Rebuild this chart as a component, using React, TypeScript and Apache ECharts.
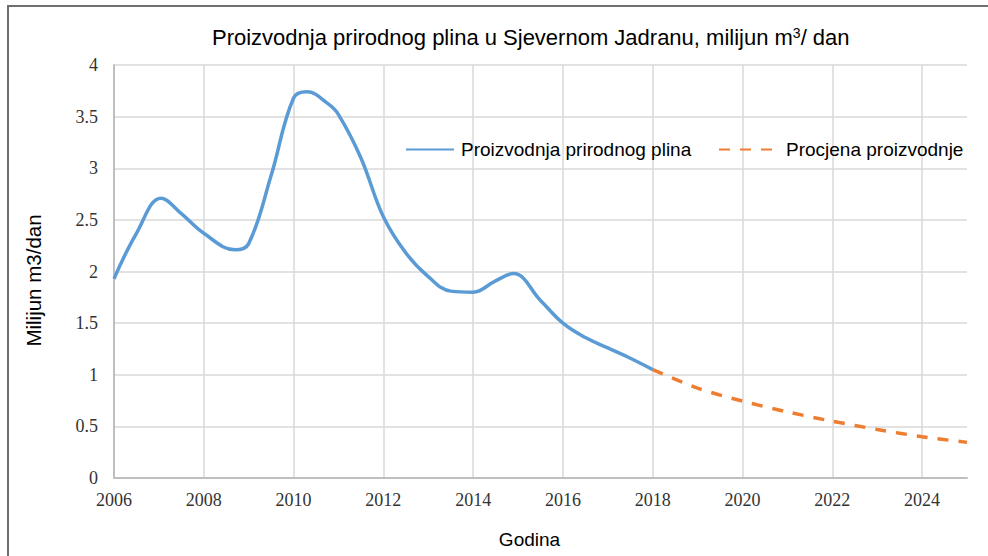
import React, { useEffect, useRef } from "react";
import * as echarts from "echarts";

const titleText = "Proizvodnja prirodnog plina u Sjevernom Jadranu, milijun m{sup|3}/ dan";
const xAxisName = "Godina";
const yAxisName = "Milijun m3/dan";
const seriesNames = ["Proizvodnja prirodnog plina", "Procjena proizvodnje"];

const productionYears = [
  2006, 2006.5, 2007.05, 2007.5, 2008, 2008.7, 2009, 2009.5, 2010, 2010.3, 2010.75,
  2011, 2011.5, 2012, 2012.5, 2013, 2013.5, 2014, 2014.5, 2014.9, 2015.5, 2016,
  2016.5, 2017, 2017.5, 2018,
];
const productionValues = [
  1.93, 2.37, 2.71, 2.56, 2.37, 2.21, 2.27, 2.93, 3.68, 3.74, 3.63,
  3.52, 3.1, 2.53, 2.18, 1.95, 1.81, 1.8, 1.91, 1.98, 1.72, 1.5,
  1.36, 1.26, 1.16, 1.05,
];

const forecastYears = [2018, 2019, 2020, 2021, 2022, 2023, 2024, 2025];
const forecastValues = [1.05, 0.87, 0.745, 0.64, 0.55, 0.47, 0.4, 0.345];

const sans = "Liberation Sans, Arial, sans-serif";
const serif = "Liberation Serif, Times New Roman, serif";

export default function App() {
  const ref = useRef<HTMLDivElement>(null);
  useEffect(() => {
    document.body.style.margin = "0";
    const chart = echarts.init(ref.current!, null, { renderer: "svg" });
    const legendText = {
      fontFamily: sans,
      fontSize: 19,
      color: "#000000",
      padding: [0, 0, 0, 2],
    };
    chart.setOption({
      animation: false,
      backgroundColor: "#ffffff",
      title: {
        text: titleText,
        left: 207,
        top: 21,
        textStyle: {
          fontFamily: sans,
          fontSize: 22,
          fontWeight: "normal",
          color: "#000000",
          rich: {
            sup: {
              fontFamily: sans,
              fontSize: 14,
              verticalAlign: "top",
              padding: [0, 0, 9, 0],
              color: "#000000",
            },
          },
        },
      },
      graphic: [
        {
          type: "rect",
          shape: { x: 8, y: 6, width: 1100, height: 700 },
          style: { fill: "none", stroke: "#6e6e6e", lineWidth: 2 },
          silent: true,
        },
      ],
      legend: [
        {
          left: 405,
          top: 140,
          padding: 0,
          itemWidth: 48,
          itemHeight: 14,
          itemStyle: { opacity: 0 },
          textStyle: legendText,
          data: [seriesNames[0]],
        },
        {
          left: 718,
          top: 140,
          padding: 0,
          itemWidth: 57,
          itemHeight: 14,
          itemGap: 8,
          itemStyle: { opacity: 0 },
          textStyle: { ...legendText, padding: [0, 0, 0, 5] },
          data: [seriesNames[1]],
        },
      ],
      grid: { left: 114, right: 21, top: 65, bottom: 78, containLabel: false },
      xAxis: {
        type: "value",
        min: 2006,
        max: 2025,
        interval: 2,
        name: xAxisName,
        nameLocation: "middle",
        nameGap: 52,
        nameTextStyle: {
          fontFamily: sans,
          fontSize: 19,
          color: "#000000",
          padding: [0, 22, 0, 0],
        },
        axisLine: { show: true, lineStyle: { color: "#bfbfbf", width: 2 } },
        axisTick: { show: false },
        axisLabel: {
          showMaxLabel: false,
          margin: 13,
          fontFamily: serif,
          fontSize: 18,
          color: "#333333",
          formatter: (v: number) => String(v),
        },
        splitLine: {
          show: true,
          showMaxLine: false,
          lineStyle: { color: "#d9d9d9", width: 1.5 },
        },
      },
      yAxis: {
        type: "value",
        min: 0,
        max: 4,
        interval: 0.5,
        name: yAxisName,
        nameLocation: "middle",
        nameGap: 70,
        nameTextStyle: {
          fontFamily: sans,
          fontSize: 20.5,
          color: "#000000",
          padding: [0, 18, 0, 0],
        },
        axisLine: { show: true, lineStyle: { color: "#bfbfbf", width: 2 } },
        axisTick: { show: false },
        axisLabel: {
          margin: 16,
          fontFamily: serif,
          fontSize: 18,
          color: "#333333",
        },
        splitLine: { show: true, lineStyle: { color: "#d9d9d9", width: 1.5 } },
      },
      series: [
        {
          name: seriesNames[0],
          type: "line",
          smooth: 0.4,
          symbol: "none",
          data: productionYears.map((y, i) => [y, productionValues[i]]),
          lineStyle: { color: "#5b9bd5", width: 3.5 },
          itemStyle: { color: "#5b9bd5" },
        },
        {
          name: seriesNames[1],
          type: "line",
          smooth: 0.3,
          symbol: "none",
          data: forecastYears.map((y, i) => [y, forecastValues[i]]),
          lineStyle: { color: "#ed7d31", width: 3.5, type: [11, 10] },
          itemStyle: { color: "#ed7d31" },
        },
      ],
    });
    return () => chart.dispose();
  }, []);
  return <div ref={ref} style={{ width: 988, height: 556 }} />;
}
